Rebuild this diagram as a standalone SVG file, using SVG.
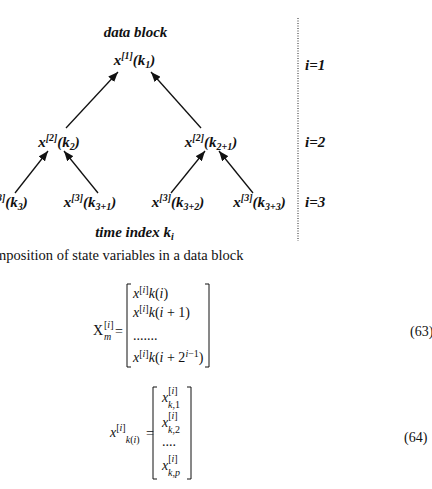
<svg xmlns="http://www.w3.org/2000/svg" width="432" height="489" viewBox="0 0 432 489">
<style>
.t{font-family:"Liberation Serif","Times New Roman","DejaVu Serif",serif;font-weight:bold;font-style:italic;font-size:15px;fill:#111}
.s{font-size:10px}
.cap{font-family:"Liberation Serif","Times New Roman",serif;font-size:14.5px;fill:#111}
.m{font-family:"Liberation Serif","Times New Roman",serif;font-size:14px;fill:#111}
.mi{font-style:italic}
.ms{font-size:10px}
.conn line{stroke:#111;stroke-width:1.3;marker-end:url(#ah)}
.br{fill:none;stroke:#111;stroke-width:1}
</style>
<defs>
<marker id="ah" viewBox="0 0 10 8" refX="10" refY="4" markerWidth="10" markerHeight="8" markerUnits="userSpaceOnUse" orient="auto">
<path d="M0,0 L10,4 L0,8 z" fill="#111"/>
</marker>
</defs>
<rect width="432" height="489" fill="#fff"/>

<g id="title"><text class="t" x="135.5" y="37" text-anchor="middle" font-size="14">data block</text></g>

<g id="n1"><text class="t" x="134.5" y="65" text-anchor="middle">x<tspan class="s" dy="-6">[1]</tspan><tspan dy="6">(k</tspan><tspan class="s" dy="3">1</tspan><tspan dy="-3">)</tspan></text></g>
<g id="n2a"><text class="t" x="59" y="147" text-anchor="middle">x<tspan class="s" dy="-6">[2]</tspan><tspan dy="6">(k</tspan><tspan class="s" dy="3">2</tspan><tspan dy="-3">)</tspan></text></g>
<g id="n2b"><text class="t" x="211" y="147" text-anchor="middle">x<tspan class="s" dy="-6">[2]</tspan><tspan dy="6">(k</tspan><tspan class="s" dy="3">2+1</tspan><tspan dy="-3">)</tspan></text></g>
<g id="n3a"><text class="t" x="7" y="207" text-anchor="middle">x<tspan class="s" dy="-6">[3]</tspan><tspan dy="6">(k</tspan><tspan class="s" dy="3">3</tspan><tspan dy="-3">)</tspan></text></g>
<g id="n3b"><text class="t" x="90" y="207" text-anchor="middle">x<tspan class="s" dy="-6">[3]</tspan><tspan dy="6">(k</tspan><tspan class="s" dy="3">3+1</tspan><tspan dy="-3">)</tspan></text></g>
<g id="n3c"><text class="t" x="178" y="207" text-anchor="middle">x<tspan class="s" dy="-6">[3]</tspan><tspan dy="6">(k</tspan><tspan class="s" dy="3">3+2</tspan><tspan dy="-3">)</tspan></text></g>
<g id="n3d"><text class="t" x="259.5" y="207" text-anchor="middle">x<tspan class="s" dy="-6">[3]</tspan><tspan dy="6">(k</tspan><tspan class="s" dy="3">3+3</tspan><tspan dy="-3">)</tspan></text></g>

<g id="timeidx"><text class="t" x="134.5" y="237" text-anchor="middle">time index k<tspan class="s" dy="3">i</tspan></text></g>

<g id="levels">
<line x1="298" y1="18" x2="298" y2="241" stroke="#222" stroke-width="1" stroke-dasharray="1,1.5"/>
<text class="t" x="305" y="70">i=1</text>
<text class="t" x="305" y="147">i=2</text>
<text class="t" x="305" y="207">i=3</text>
</g>

<g id="connectors" class="conn">
<line x1="66" y1="128" x2="118" y2="72"/>
<line x1="201" y1="128" x2="151" y2="72"/>
<line x1="15" y1="193" x2="48" y2="151"/>
<line x1="98" y1="193" x2="64" y2="151"/>
<line x1="171" y1="193" x2="205" y2="151"/>
<line x1="253" y1="193" x2="219" y2="151"/>
</g>

<g id="caption"><text class="cap" x="-5" y="260">mposition of state variables in a data block</text></g>

<g id="eq63">
<text class="m" x="93" y="335">X</text>
<text class="m ms" x="104" y="328">[<tspan class="mi">i</tspan>]</text>
<text class="m ms mi" x="104" y="340">m</text>
<text class="m" x="115" y="336">=</text>
<path class="br" d="M131,284 H127 V367 H131"/>
<path class="br" d="M205,284 H209 V367 H205"/>
<text class="m" x="133" y="298"><tspan class="mi">x</tspan><tspan class="ms" dy="-5">[<tspan class="mi">i</tspan>]</tspan><tspan class="mi" dy="5">k</tspan>(<tspan class="mi">i</tspan>)</text>
<text class="m" x="133" y="317"><tspan class="mi">x</tspan><tspan class="ms" dy="-5">[<tspan class="mi">i</tspan>]</tspan><tspan class="mi" dy="5">k</tspan>(<tspan class="mi">i</tspan> + 1)</text>
<text class="m" x="133" y="340">.......</text>
<text class="m" x="133" y="362"><tspan class="mi">x</tspan><tspan class="ms" dy="-5">[<tspan class="mi">i</tspan>]</tspan><tspan class="mi" dy="5">k</tspan>(<tspan class="mi">i</tspan> + 2<tspan class="ms" dy="-5"><tspan class="mi">i</tspan>−1</tspan><tspan dy="5">)</tspan></text>
<text class="m" x="410" y="336">(63)</text>
</g>

<g id="eq64">
<text class="m" x="110" y="437"><tspan class="mi">x</tspan><tspan class="ms" dy="-6">[<tspan class="mi">i</tspan>]</tspan><tspan class="ms mi" dy="12">k</tspan><tspan class="ms">(<tspan class="mi">i</tspan>)</tspan></text>
<text class="m" x="146" y="438">=</text>
<path class="br" d="M157,387 H153 V479 H157"/>
<path class="br" d="M187,387 H191 V479 H187"/>
<text class="m" x="162" y="402"><tspan class="mi">x</tspan><tspan class="ms" dy="-8">[<tspan class="mi">i</tspan>]</tspan></text>
<text class="m ms" x="168" y="408"><tspan class="mi">k</tspan>,1</text>
<text class="m" x="162" y="427"><tspan class="mi">x</tspan><tspan class="ms" dy="-8">[<tspan class="mi">i</tspan>]</tspan></text>
<text class="m ms" x="168" y="433"><tspan class="mi">k</tspan>,2</text>
<text class="m" x="162" y="446">....</text>
<text class="m" x="162" y="470"><tspan class="mi">x</tspan><tspan class="ms" dy="-8">[<tspan class="mi">i</tspan>]</tspan></text>
<text class="m ms" x="168" y="476"><tspan class="mi">k</tspan>,<tspan class="mi">p</tspan></text>
<text class="m" x="404" y="442">(64)</text>
</g>
</svg>
